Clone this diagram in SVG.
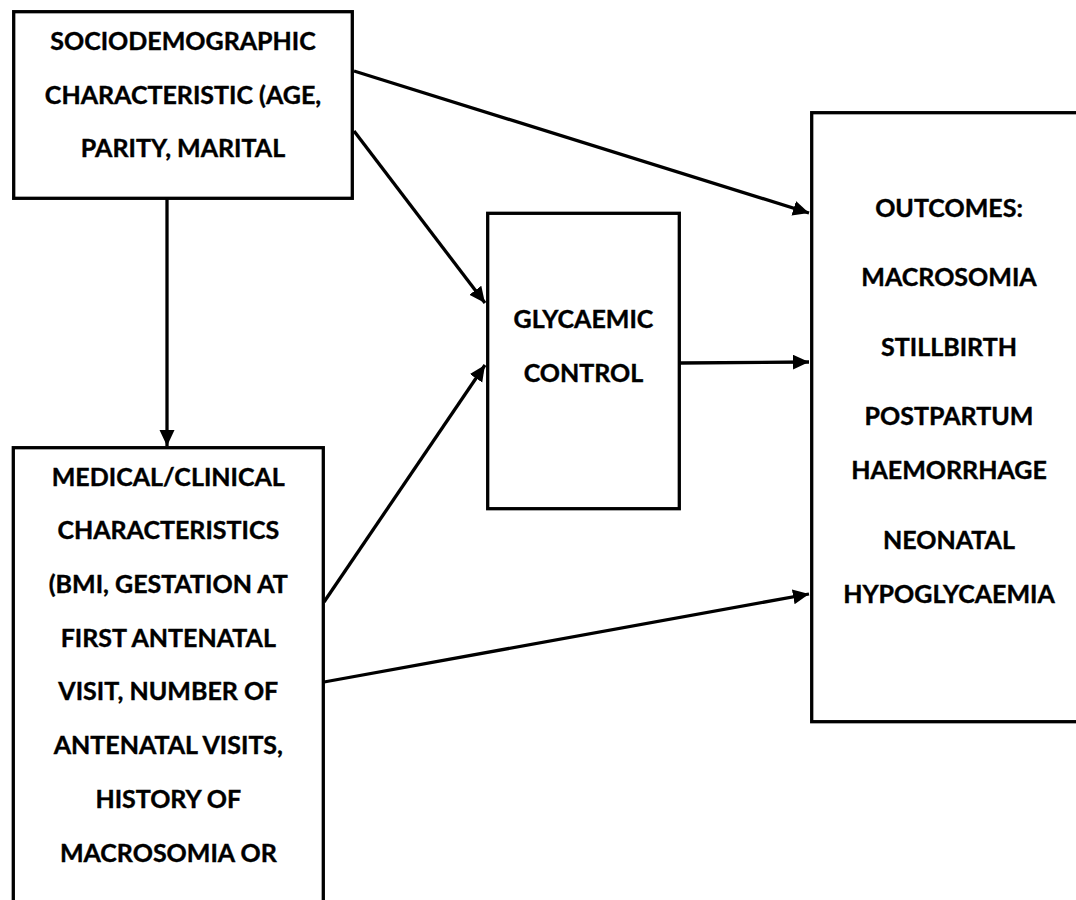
<svg xmlns="http://www.w3.org/2000/svg" width="1076" height="900" viewBox="0 0 1076 900">
<style>
  .box { fill: #ffffff; stroke: #000000; stroke-width: 3.3; }
  .lbl { font-family: Lato, "Open Sans", "Liberation Sans", sans-serif; font-weight: bold; font-size: 25px; fill: #000000; stroke: #000000; stroke-width: 0.4; text-anchor: middle; }
  .conn { stroke: #000000; stroke-width: 3.3; fill: none; marker-end: url(#arrow); }
</style>
<defs>
  <marker id="arrow" markerUnits="userSpaceOnUse" markerWidth="17" markerHeight="16" refX="16" refY="7.5" orient="auto">
    <path d="M0,0 L16,7.5 L0,15 Z" fill="#000000"/>
  </marker>
</defs>
<rect width="1076" height="900" fill="#ffffff"/>
<g id="connectors">
  <line class="conn" x1="167" y1="198" x2="167" y2="446"/>
  <line class="conn" x1="354" y1="71" x2="809" y2="213"/>
  <line class="conn" x1="354" y1="131" x2="485" y2="303"/>
  <line class="conn" x1="324" y1="602" x2="485" y2="365"/>
  <line class="conn" x1="680" y1="363" x2="809" y2="362"/>
  <line class="conn" x1="324" y1="682" x2="809" y2="594"/>
</g>
<g id="sociodemographic">
  <rect class="box" x="13.7" y="11.7" width="338.6" height="186.6"/>
  <text class="lbl" x="183" y="50">SOCIODEMOGRAPHIC</text>
  <text class="lbl" x="183" y="104">CHARACTERISTIC (AGE,</text>
  <text class="lbl" x="183" y="157">PARITY, MARITAL</text>
</g>
<g id="medical">
  <rect class="box" x="13.3" y="447.7" width="310" height="520"/>
  <text class="lbl" x="168.3" y="486">MEDICAL/CLINICAL</text>
  <text class="lbl" x="168.3" y="539">CHARACTERISTICS</text>
  <text class="lbl" x="168.3" y="593">(BMI, GESTATION AT</text>
  <text class="lbl" x="168.3" y="647">FIRST ANTENATAL</text>
  <text class="lbl" x="168.3" y="700">VISIT, NUMBER OF</text>
  <text class="lbl" x="168.3" y="754">ANTENATAL VISITS,</text>
  <text class="lbl" x="168.3" y="808">HISTORY OF</text>
  <text class="lbl" x="168.3" y="862">MACROSOMIA OR</text>
</g>
<g id="glycaemic">
  <rect class="box" x="487.7" y="213.3" width="191.6" height="295.4"/>
  <text class="lbl" x="583.5" y="328">GLYCAEMIC</text>
  <text class="lbl" x="583.5" y="382">CONTROL</text>
</g>
<g id="outcomes">
  <rect class="box" x="811.7" y="112.7" width="400" height="609"/>
  <text class="lbl" x="949" y="217">OUTCOMES:</text>
  <text class="lbl" x="949" y="286">MACROSOMIA</text>
  <text class="lbl" x="949" y="356">STILLBIRTH</text>
  <text class="lbl" x="949" y="425">POSTPARTUM</text>
  <text class="lbl" x="949" y="479">HAEMORRHAGE</text>
  <text class="lbl" x="949" y="549">NEONATAL</text>
  <text class="lbl" x="949" y="603">HYPOGLYCAEMIA</text>
</g>
</svg>
